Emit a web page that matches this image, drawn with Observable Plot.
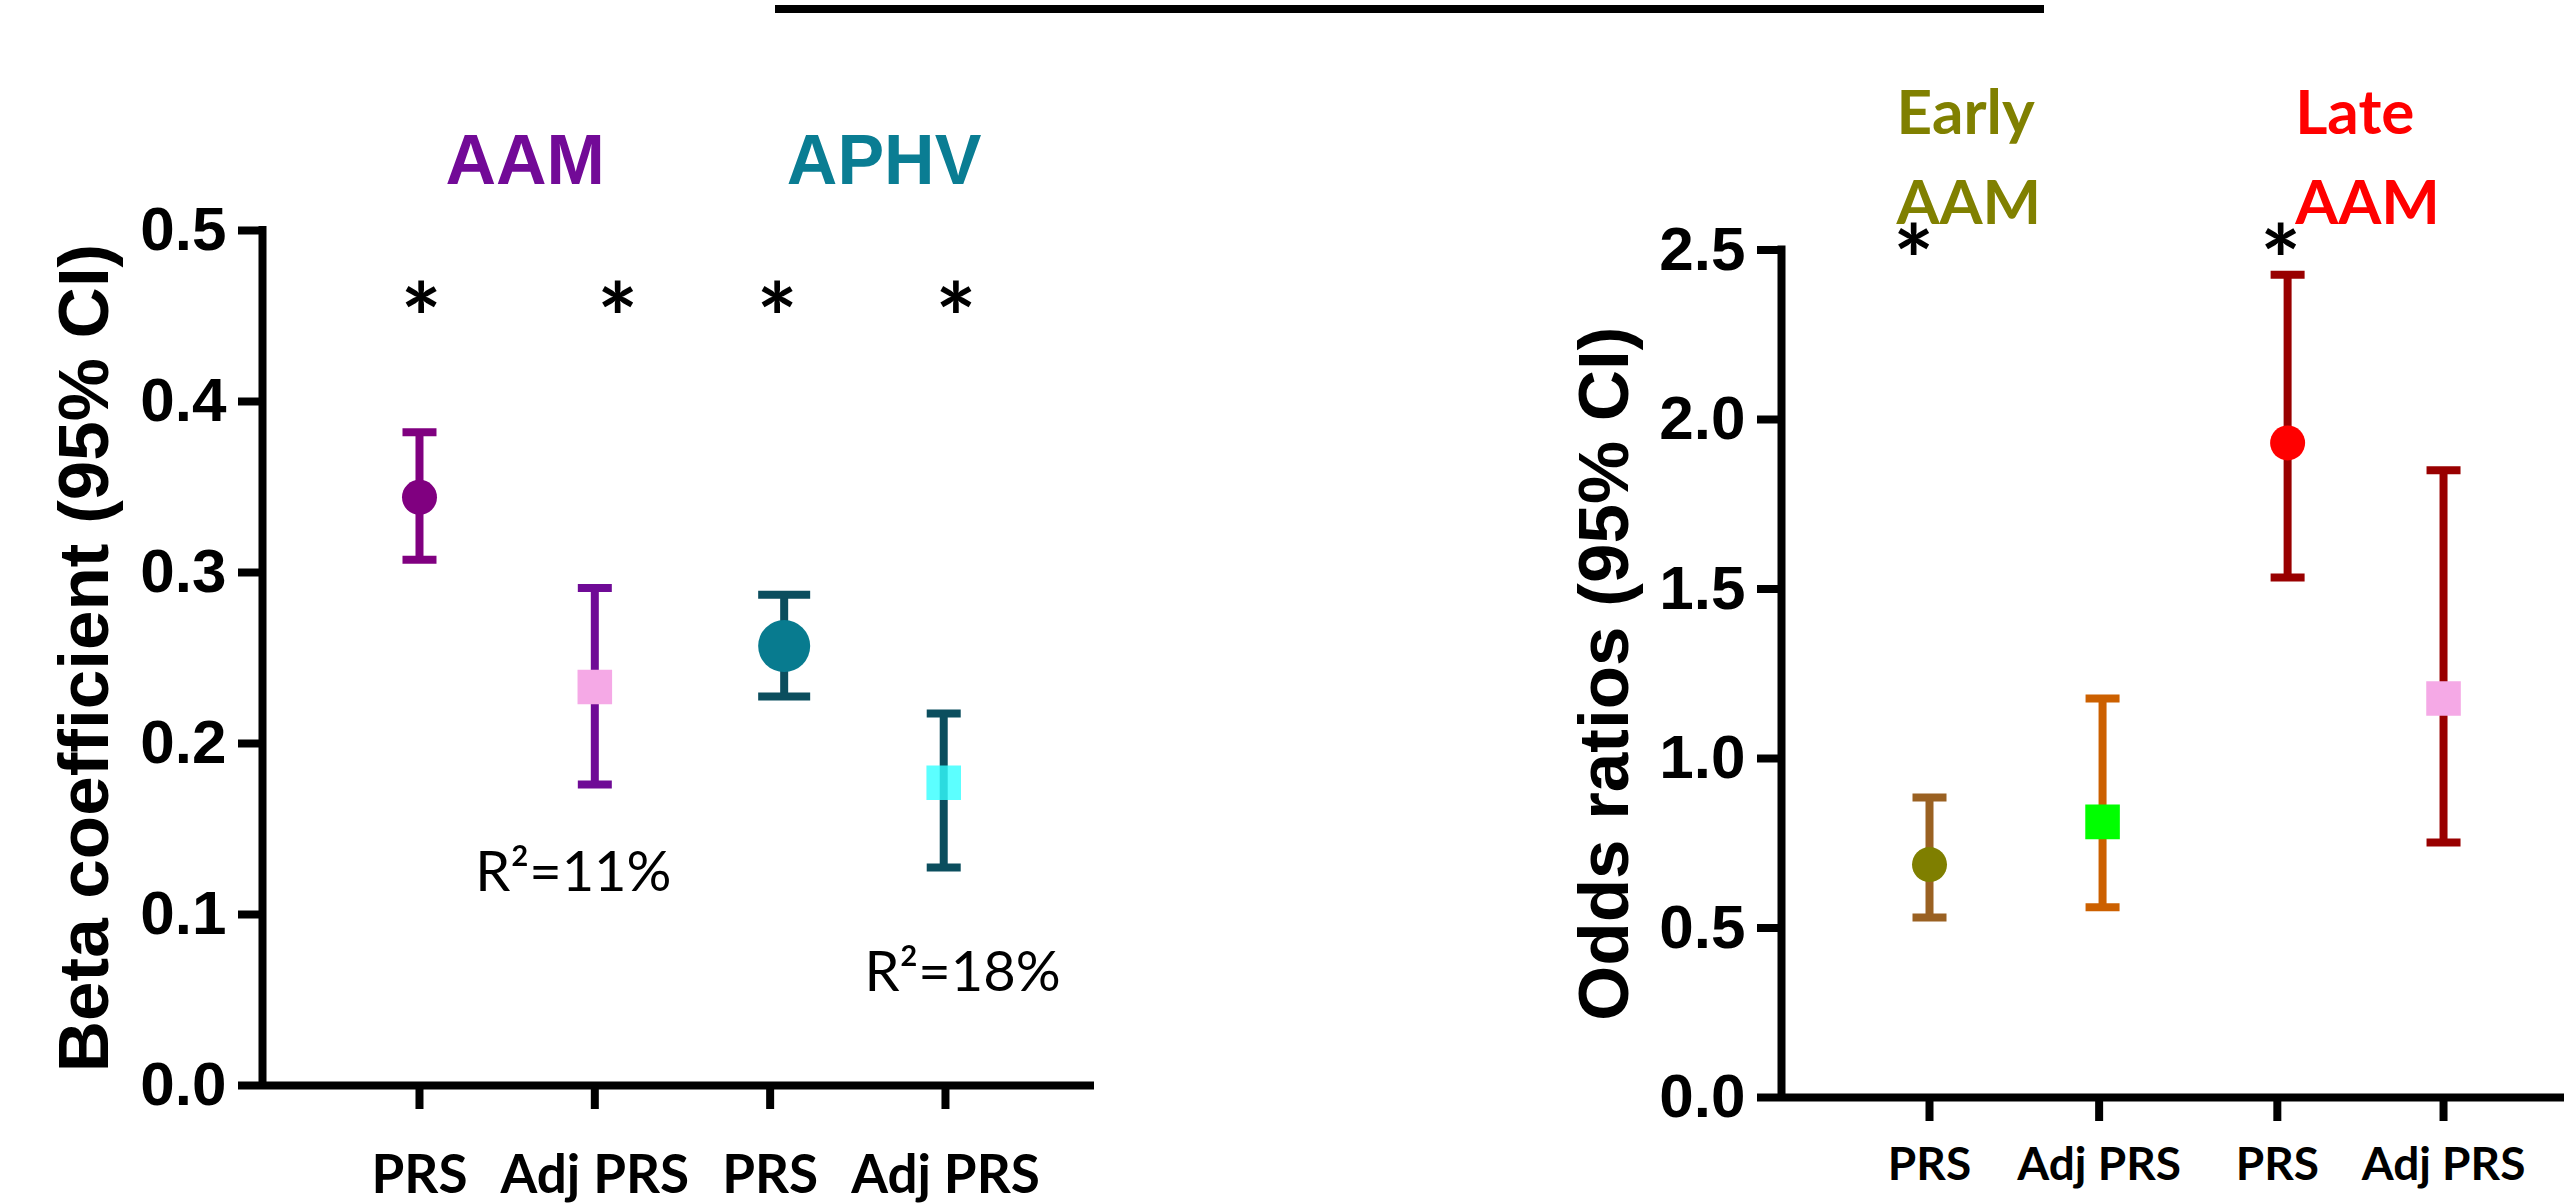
<!DOCTYPE html>
<html><head><meta charset="utf-8">
<script src="https://cdn.jsdelivr.net/npm/d3@7"></script>
<script src="https://cdn.jsdelivr.net/npm/@observablehq/plot@0.6"></script>
<style>
html,body{margin:0;padding:0;background:#fff;}
#root{position:relative;width:2564px;height:1204px;overflow:hidden;background:#fff;}
#root svg{position:absolute;top:0;overflow:visible;}
#topline{position:absolute;left:775px;top:5px;width:1269px;height:8px;background:#000;}
</style></head><body>
<div id="root"><div id="topline"></div></div>
<script>
// ---------- Left panel data ----------
const leftCategories = ["PRS", "Adj PRS", "PRS", "Adj PRS"];
const leftTickPos = [1, 2, 3, 4];
const leftPointPos = [1, 2, 3.08, 3.99];
const leftBeta = [0.344, 0.233, 0.257, 0.177];
const leftLower = [0.3075, 0.176, 0.2275, 0.1275];
const leftUpper = [0.382, 0.291, 0.287, 0.2175];
const leftYTicks = [0, 0.1, 0.2, 0.3, 0.4, 0.5];
const leftTitle = "Beta coefficient (95% CI)";
const leftGroups = ["AAM", "APHV"];
const leftGroupPos = [1.603, 3.65];
const leftGroupY = 0.527;
const leftStarPos = [1.01, 2.13, 3.04, 4.06];
const leftStarY = 0.461;
const r2Labels = ["R²=11%", "R²=18%"];
const r2Pos = [1.878, 4.097];
const r2Y = [0.1135, 0.055];

// ---------- Right panel data ----------
const rightCategories = ["PRS", "Adj PRS", "PRS", "Adj PRS"];
const rightTickPos = [1, 1.99, 3.03, 4];
const rightPointPos = [1, 2.01, 3.09, 4];
const rightOR = [0.687, 0.813, 1.931, 1.177];
const rightLower = [0.531, 0.561, 1.534, 0.752];
const rightUpper = [0.885, 1.177, 2.427, 1.850];
const rightYTicks = [0, 0.5, 1.0, 1.5, 2.0, 2.5];
const rightTitle = "Odds ratios (95% CI)";
const rightGroups = ["Early\nAAM", "Late\nAAM"];
const rightGroupPos = [0.807, 3.134];
const rightGroupY = 2.578;
const rightStarPos = [0.907, 3.05];
const rightStarY = 2.532;

// ---------- Styles ----------
const leftStyle = [
  {symbol: "circle", r: 17.5, fill: "#800080", bar: "#800080", cap: 17, op: 1},
  {symbol: "square", r: 19.5, fill: "#f5a9e6", bar: "#6f0b96", cap: 17, op: 1},
  {symbol: "circle", r: 26,   fill: "#087b8f", bar: "#0b4e5e", cap: 26, op: 1},
  {symbol: "square", r: 19.5, fill: "#33ffff", bar: "#0b4e5e", cap: 17, op: 0.8}
];
const rightStyle = [
  {symbol: "circle", r: 17.5, fill: "#7f7f00", bar: "#9a6122", cap: 17, op: 1},
  {symbol: "square", r: 19.5, fill: "#00ff00", bar: "#cc6000", cap: 17, op: 1},
  {symbol: "circle", r: 17.5, fill: "#ff0000", bar: "#990000", cap: 17, op: 1},
  {symbol: "square", r: 19.5, fill: "#f5a9e6", bar: "#990000", cap: 17, op: 1}
];
const leftGroupColors = ["#720a97", "#0a7d93"];
const rightGroupColors = ["#808000", "#ff0000"];

const ARIAL = "'Liberation Sans', Arial, Helvetica, sans-serif";
const CAL = "Lato, 'Open Sans', sans-serif";
const capSymbol = {draw(ctx, size) { const w = Math.sqrt(size / Math.PI); ctx.moveTo(-w, 0); ctx.lineTo(w, 0); }};

function rowsOf(pos, est, lo, hi, style) {
  return pos.map((p, i) => ({pos: p, est: est[i], lo: lo[i], hi: hi[i], ...style[i]}));
}

function panel(o) {
  const rows = rowsOf(o.pointPos, o.est, o.lo, o.hi, o.style);
  return Plot.plot({
    width: o.width, height: 1204,
    marginLeft: o.ml, marginRight: o.mr, marginTop: o.mt, marginBottom: o.mb,
    x: {domain: o.xDomain},
    y: {domain: o.yDomain},
    color: {type: "identity"},
    r: {type: "identity"},
    style: {background: "transparent", overflow: "visible"},
    marks: [
      Plot.axisY({ticks: o.yTicks, tickFormat: d3.format(".1f"), tickSize: 24, tickPadding: 12,
        strokeWidth: 8, fontSize: 62, fontWeight: "bold", fontFamily: ARIAL, label: null}),
      Plot.axisX({ticks: o.tickPos, tickFormat: d => o.cats[o.tickPos.indexOf(d)], tickSize: 24,
        tickPadding: o.xPad, strokeWidth: 8, fontSize: o.xFont, fontWeight: "bold", fontFamily: CAL, label: null}),
      Plot.ruleX([o.xDomain[0]], {strokeWidth: 8, strokeLinecap: "square"}),
      Plot.ruleY([o.yDomain[0]], {strokeWidth: 8}),
      Plot.text([o.title], {text: d => d, frameAnchor: "left", textAnchor: "middle", lineAnchor: "middle",
        rotate: -90, dx: o.titleDx, fontSize: 71, fontWeight: "bold", fontFamily: ARIAL, fill: "black"}),
      // error bars
      Plot.ruleX(rows, {x: "pos", y1: "lo", y2: "hi", stroke: "bar", strokeWidth: 8}),
      Plot.dot(rows, {x: "pos", y: "hi", r: "cap", symbol: capSymbol, stroke: "bar", strokeWidth: 8, fill: "none"}),
      Plot.dot(rows, {x: "pos", y: "lo", r: "cap", symbol: capSymbol, stroke: "bar", strokeWidth: 8, fill: "none"}),
      // points
      Plot.dot(rows.filter(d => d.symbol === "circle"), {x: "pos", y: "est", r: "r", symbol: "circle", fill: "fill", fillOpacity: "op", stroke: "none"}),
      Plot.dot(rows.filter(d => d.symbol === "square"), {x: "pos", y: "est", r: "r", symbol: "square", fill: "fill", fillOpacity: "op", stroke: "none"}),
      // asterisks
      Plot.text(o.starPos, {x: d => d, y: () => o.starY, text: () => "*", fontSize: 96, fontWeight: "bold",
        fontFamily: CAL, lineAnchor: "middle", dy: 25, fill: "black"}),
      // group labels
      Plot.text(o.groups, {x: (d, i) => o.groupPos[i], y: () => o.groupY, text: d => d, fill: (d, i) => o.groupColors[i],
        fontSize: o.groupFont, fontWeight: "bold", fontFamily: o.groupFamily, textAnchor: o.groupAnchor,
        lineAnchor: "bottom", lineHeight: o.groupLH}),
      ...(o.extra || [])
    ]
  });
}

const leftSvg = panel({
  width: 1110, ml: 262, mr: 16, mt: 230, mb: 119,
  xDomain: [0.1046, 4.85], yDomain: [0, 0.5], yTicks: leftYTicks,
  tickPos: leftTickPos, cats: leftCategories, xPad: 46, xFont: 53,
  title: leftTitle, titleDx: -177.5,
  pointPos: leftPointPos, est: leftBeta, lo: leftLower, hi: leftUpper, style: leftStyle,
  starPos: leftStarPos, starY: leftStarY,
  groups: leftGroups, groupPos: leftGroupPos, groupY: leftGroupY, groupColors: leftGroupColors,
  groupFont: 70, groupFamily: ARIAL, groupAnchor: "middle", groupLH: 1,
  extra: [
    Plot.text(r2Labels, {x: (d, i) => r2Pos[i], y: (d, i) => r2Y[i], text: d => d, fontSize: 56,
      fontFamily: CAL, fontWeight: "normal", lineAnchor: "bottom", fill: "black"})
  ]
});
leftSvg.style.left = "0px";

const rightSvg = panel({
  width: 1164, ml: 381, mr: 0, mt: 249.5, mb: 107,
  xDomain: [0.1362, 4.706], yDomain: [0, 2.5], yTicks: rightYTicks,
  tickPos: rightTickPos, cats: rightCategories, xPad: 26, xFont: 46,
  title: rightTitle, titleDx: -176.5,
  pointPos: rightPointPos, est: rightOR, lo: rightLower, hi: rightUpper, style: rightStyle,
  starPos: rightStarPos, starY: rightStarY,
  groups: rightGroups, groupPos: rightGroupPos, groupY: rightGroupY, groupColors: rightGroupColors,
  groupFont: 62, groupFamily: CAL, groupAnchor: "start", groupLH: 1.45
});
rightSvg.style.left = "1400px";

document.getElementById("root").append(leftSvg, rightSvg);
</script></body></html>
